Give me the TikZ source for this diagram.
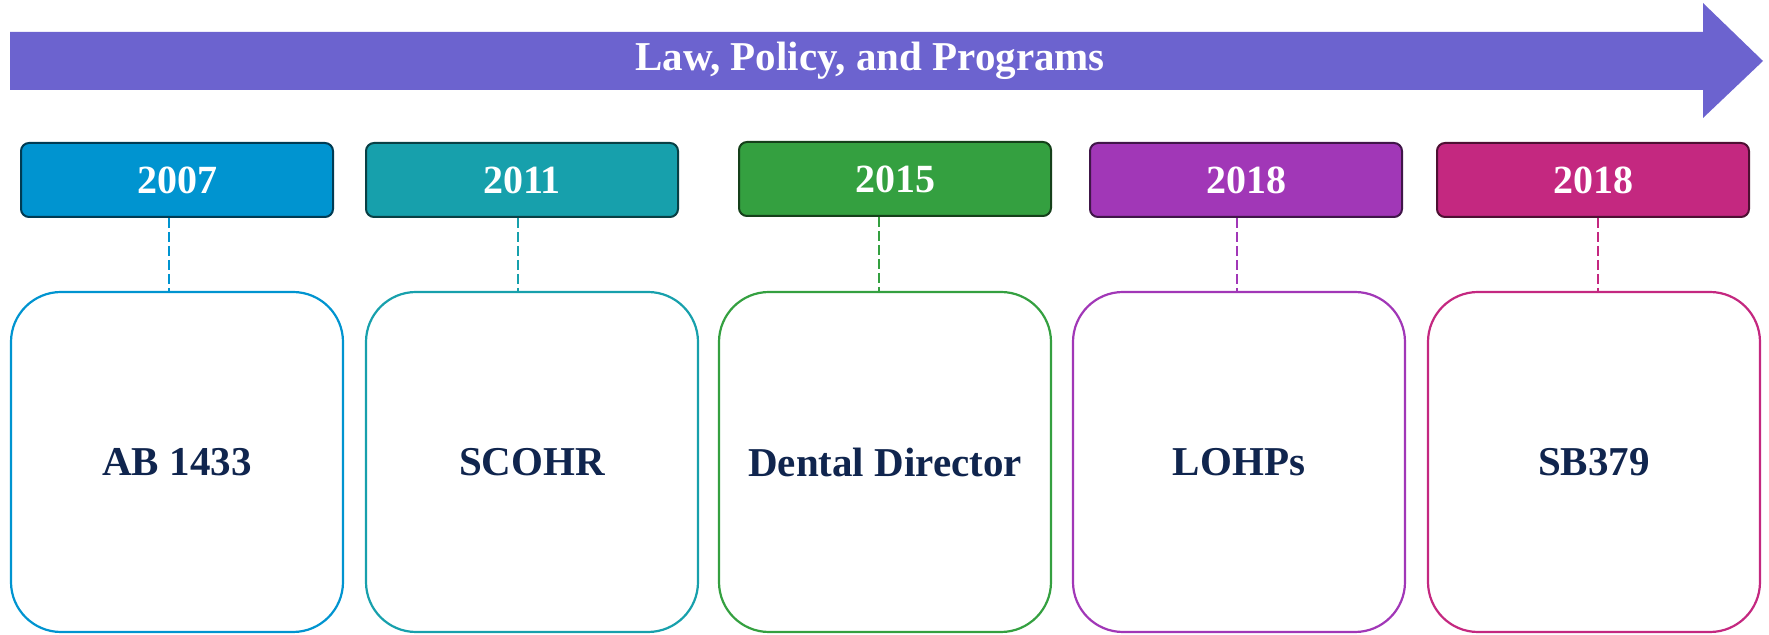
\documentclass[tikz,border=0pt]{standalone}
\usepackage{fontspec}
\setmainfont{Liberation Serif}

\definecolor{bandcol}{HTML}{6C63CF}
\definecolor{navytext}{HTML}{10254E}
\definecolor{col1}{HTML}{0094D0}
\definecolor{col2}{HTML}{17A0AC}
\definecolor{col3}{HTML}{34A040}
\definecolor{col4}{HTML}{A137B7}
\definecolor{col5}{HTML}{C42880}

\tikzset{
  yearbox/.style={draw=#1!40!black, fill=#1, line width=1pt, rounded corners=4pt,
    minimum width=156pt, minimum height=37pt, text=white,
    font=\bfseries\fontsize{20}{24}\selectfont},
  eventbox/.style={draw=#1, line width=1.1pt, rounded corners=25pt, fill=white,
    minimum width=166pt, minimum height=170pt, text=navytext,
    font=\bfseries\fontsize{20.5}{24}\selectfont},
  link/.style={draw=#1, line width=0.9pt, dash pattern=on 5pt off 2pt}
}

\begin{document}
\begin{tikzpicture}[line join=miter, x=0.5pt, y=-0.5pt]
    \useasboundingbox (0, 0) rectangle (1769, 635);

    % Timeline arrow
    \fill[bandcol] (10, 32) -- (1703, 32) -- (1703, 3) -- (1763, 61)
        -- (1703, 118) -- (1703, 90) -- (10, 90) -- cycle;
    \node[text=white, font=\bfseries\fontsize{20.5}{24}\selectfont] (title) at (870, 61) {Law, Policy, and Programs};

    % Item 1
    \node[yearbox=col1] (y1) at (177, 180) {2007};
    \node[eventbox=col1] (e1) at (177, 462) {AB 1433};
    \draw[link=col1] (y1.south -| 169, 0) -- (e1.north -| 169, 0);

    % Item 2
    \node[yearbox=col2] (y2) at (522, 180) {2011};
    \node[eventbox=col2] (e2) at (532, 462) {SCOHR};
    \draw[link=col2] (y2.south -| 518, 0) -- (e2.north -| 518, 0);

    % Item 3
    \node[yearbox=col3] (y3) at (895, 179) {2015};
    \node[eventbox=col3] (e3) at (885, 462) {Dental Director};
    \draw[link=col3] (y3.south -| 879, 0) -- (e3.north -| 879, 0);

    % Item 4
    \node[yearbox=col4] (y4) at (1246, 180) {2018};
    \node[eventbox=col4] (e4) at (1239, 462) {LOHPs};
    \draw[link=col4] (y4.south -| 1237, 0) -- (e4.north -| 1237, 0);

    % Item 5
    \node[yearbox=col5] (y5) at (1593, 180) {2018};
    \node[eventbox=col5] (e5) at (1594, 462) {SB379};
    \draw[link=col5] (y5.south -| 1598, 0) -- (e5.north -| 1598, 0);
\end{tikzpicture}
\end{document}
